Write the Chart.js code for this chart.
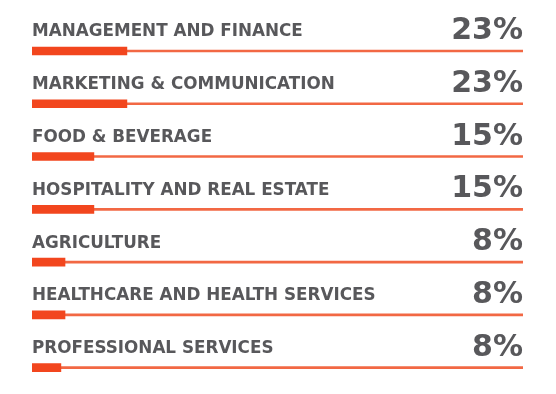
<!DOCTYPE html>
<html>
<head>
<meta charset="utf-8">
<script src="https://cdn.jsdelivr.net/npm/chart.js@4"></script>
<style>
  body { margin: 0; background: #ffffff; }
  #wrap { width: 556px; height: 394px; position: relative; }
</style>
</head>
<body>
<div id="wrap"><canvas id="grafico"></canvas></div>
<script>
// sectors and their shares
const categorias = [
  'MANAGEMENT AND FINANCE',
  'MARKETING & COMMUNICATION',
  'FOOD & BEVERAGE',
  'HOSPITALITY AND REAL ESTATE',
  'AGRICULTURE',
  'HEALTHCARE AND HEALTH SERVICES',
  'PROFESSIONAL SERVICES'
];
const percentuais = ['23%', '23%', '15%', '15%', '8%', '8%', '8%'];
const valores = [23, 23, 15, 15, 8, 8, 7];   // bar lengths as drawn
const escalaMax = 119;                        // full length of the thin track
const trilho = categorias.map(() => escalaMax);

const corBarra = '#f2461e';
const corTrilho = '#f26844';
const corTexto = '#58585b';

// labels above each bar + percentage on the right
const textosPlugin = {
  id: 'textos',
  afterDatasetsDraw(chart) {
    const ctx = chart.ctx;
    const area = chart.chartArea;
    const y = chart.scales.y;
    ctx.save();
    ctx.fillStyle = corTexto;
    ctx.textBaseline = 'alphabetic';
    categorias.forEach((cat, i) => {
      const py = y.getPixelForValue(i);
      ctx.font = 'bold 16.8px "DejaVu Sans"';
      ctx.textAlign = 'left';
      ctx.fillText(cat, area.left, py - 14.5);
      ctx.font = 'bold 30px "DejaVu Sans"';
      ctx.textAlign = 'right';
      ctx.fillText(percentuais[i], area.right, py - 12);
    });
    ctx.restore();
  }
};

new Chart(document.getElementById('grafico').getContext('2d'), {
  type: 'bar',
  data: {
    labels: categorias,
    datasets: [
      {
        data: valores,
        backgroundColor: corBarra,
        barThickness: 8,
        grouped: false,
        order: 0
      },
      {
        data: trilho,
        backgroundColor: corTrilho,
        barThickness: 2,
        grouped: false,
        order: 1
      }
    ]
  },
  options: {
    indexAxis: 'y',
    responsive: true,
    maintainAspectRatio: false,
    animation: false,
    layout: { padding: { top: 24.6, bottom: 0, left: 32, right: 33 } },
    plugins: { legend: { display: false }, tooltip: { enabled: false } },
    scales: {
      x: { display: false, min: 0, max: escalaMax },
      y: { display: false, offset: true }
    }
  },
  plugins: [textosPlugin]
});
</script>
</body>
</html>
